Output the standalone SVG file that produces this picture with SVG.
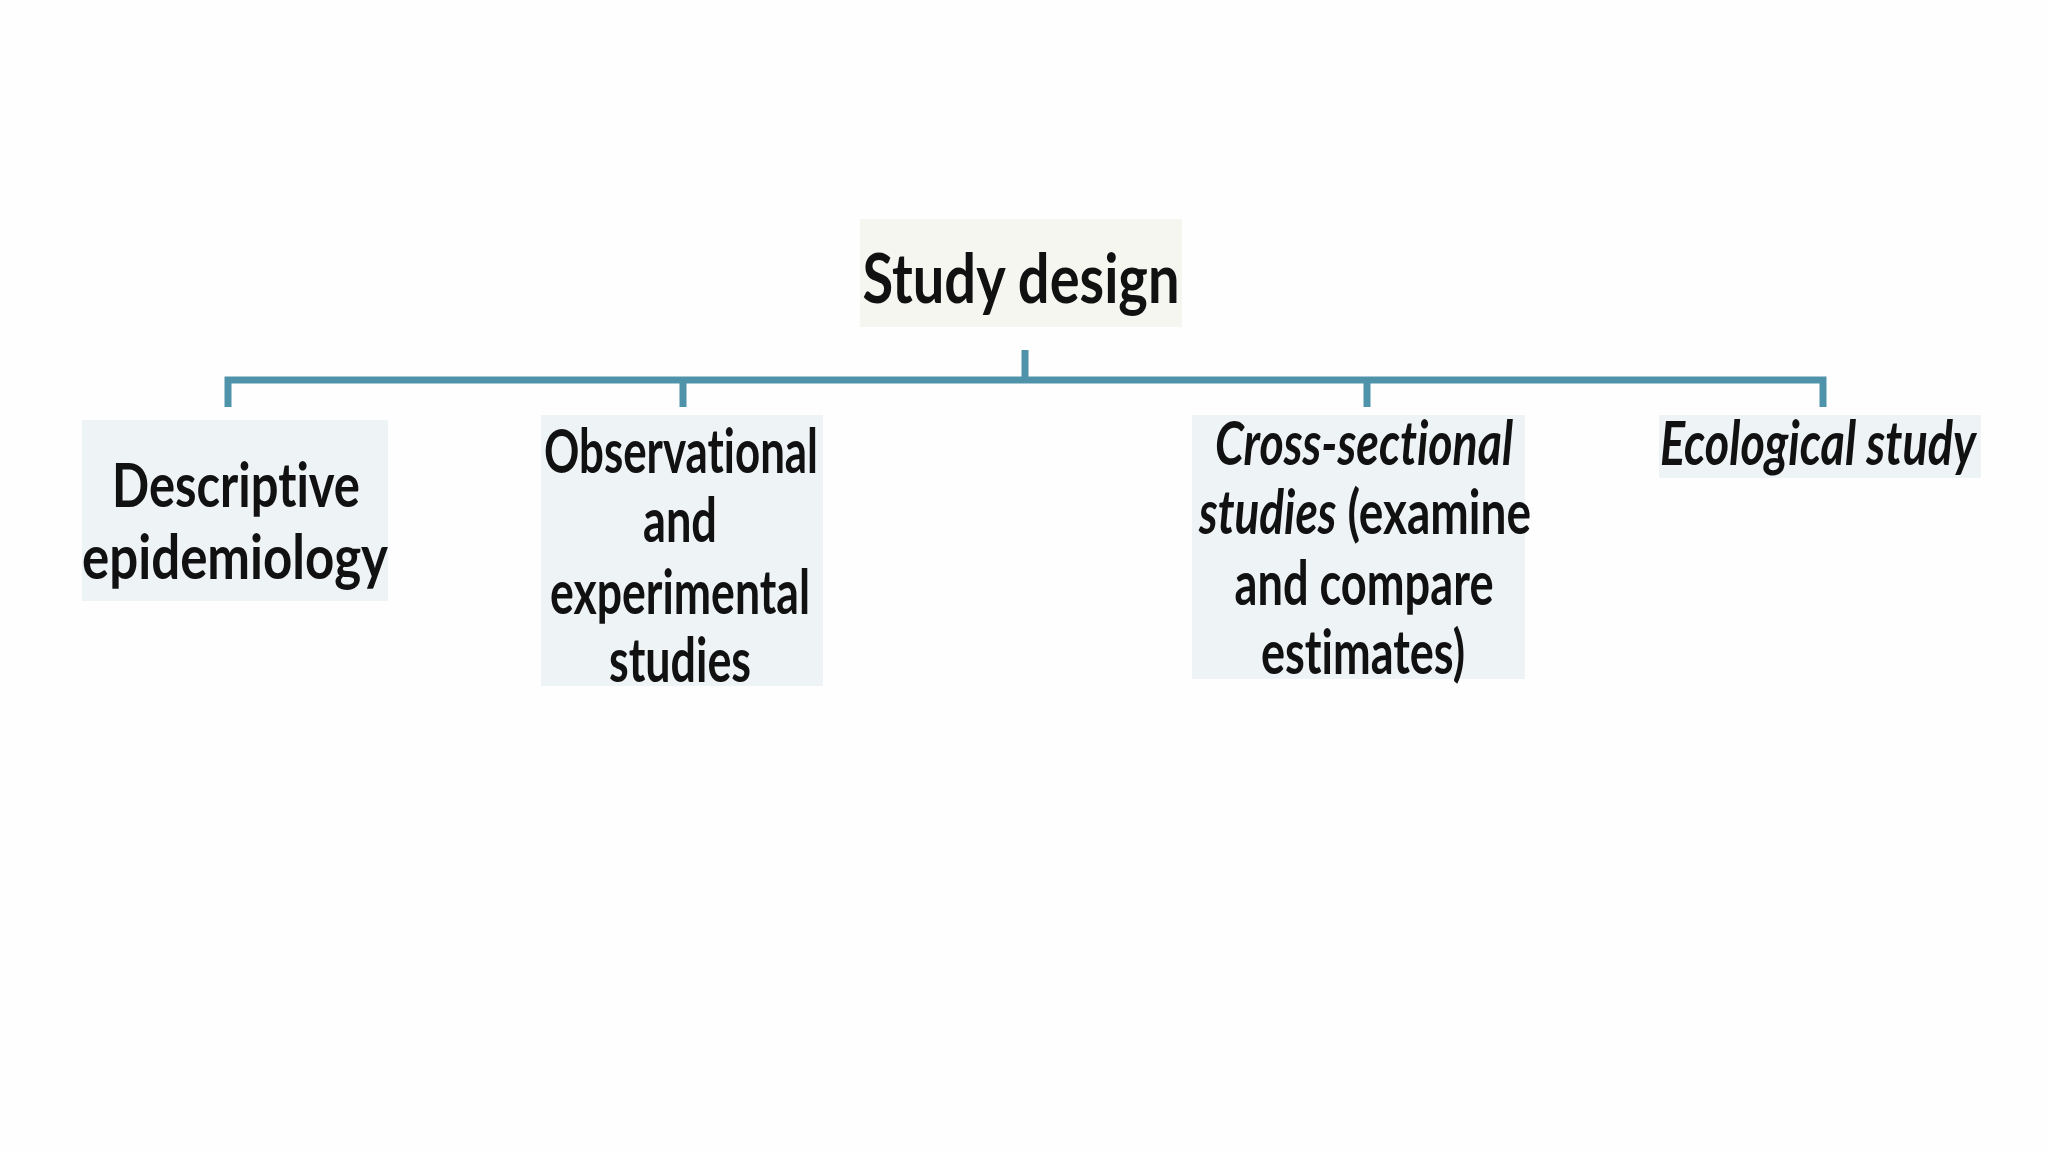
<svg xmlns="http://www.w3.org/2000/svg" width="2048" height="1152" viewBox="0 0 2048 1152">
<style>
.t{font-family:Lato,"Open Sans","Liberation Sans",sans-serif;font-weight:bold;fill:#111;text-anchor:middle;font-variant-ligatures:none}
.n{font-size:62px}
.i{font-style:italic}
.box{fill:#eef3f6}
.c{stroke:#4f93aa;stroke-width:7;fill:none}
</style>
<rect width="2048" height="1152" fill="#fefefe"/>
<g id="connectors">
<line class="c" x1="1025" y1="350" x2="1025" y2="380"/>
<polyline class="c" points="228,407 228,380 1823,380 1823,407"/>
<line class="c" x1="683" y1="380" x2="683" y2="407"/>
<line class="c" x1="1367" y1="380" x2="1367" y2="407"/>
</g>
<g id="study-design">
<rect x="860" y="219" width="322" height="108" fill="#f6f6f1"/>
<text class="t" x="1021" y="303" font-size="68" textLength="317" lengthAdjust="spacingAndGlyphs">Study design</text>
</g>
<g id="descriptive">
<rect class="box" x="82" y="420" width="306" height="181"/>
<text class="t n" x="236" y="507" textLength="248" lengthAdjust="spacingAndGlyphs">Descriptive</text>
<text class="t n" x="235" y="579" textLength="306" lengthAdjust="spacingAndGlyphs">epidemiology</text>
</g>
<g id="observational">
<rect class="box" x="541" y="415" width="282" height="271"/>
<text class="t n" x="681" y="473" textLength="274" lengthAdjust="spacingAndGlyphs">Observational</text>
<text class="t n" x="680" y="542" textLength="74" lengthAdjust="spacingAndGlyphs">and</text>
<text class="t n" x="680" y="614" textLength="260" lengthAdjust="spacingAndGlyphs">experimental</text>
<text class="t n" x="680" y="682" textLength="142" lengthAdjust="spacingAndGlyphs">studies</text>
</g>
<g id="cross-sectional">
<rect class="box" x="1192" y="415" width="333" height="264"/>
<text class="t n i" x="1364" y="465" textLength="298" lengthAdjust="spacingAndGlyphs">Cross-sectional</text>
<text class="t n" x="1365" y="534" textLength="332" lengthAdjust="spacingAndGlyphs"><tspan class="i">studies</tspan> (examine</text>
<text class="t n" x="1364" y="605" textLength="259" lengthAdjust="spacingAndGlyphs">and compare</text>
<text class="t n" x="1363" y="674" textLength="204" lengthAdjust="spacingAndGlyphs">estimates)</text>
</g>
<g id="ecological">
<rect class="box" x="1659" y="415" width="322" height="63" fill="#f0f3f5"/>
<text class="t n i" x="1818" y="465" textLength="316" lengthAdjust="spacingAndGlyphs">Ecological study</text>
</g>
</svg>
